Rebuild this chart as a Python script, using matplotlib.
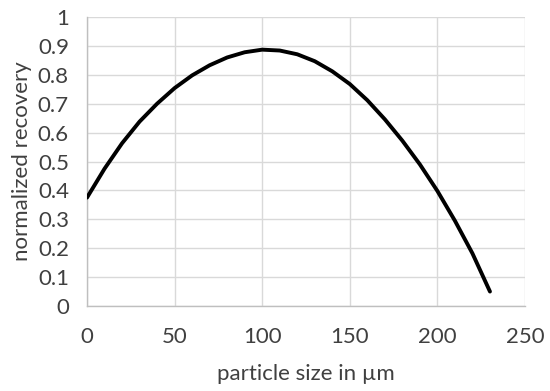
import matplotlib
matplotlib.use("Agg")
import matplotlib.pyplot as plt
import numpy as np

particle_size = [0, 10, 20, 30, 40, 50, 60, 70, 80, 90, 100, 110, 120, 130,
                 140, 150, 160, 170, 180, 190, 200, 210, 220, 230]
recovery = [0.375, 0.475, 0.563, 0.638, 0.70, 0.754, 0.798, 0.833, 0.860, 0.878,
            0.887, 0.884, 0.871, 0.847, 0.812, 0.768, 0.712, 0.646, 0.572,
            0.49, 0.398, 0.295, 0.182, 0.05]
x_ticks = [0, 50, 100, 150, 200, 250]
y_ticks = [0, 0.1, 0.2, 0.3, 0.4, 0.5, 0.6, 0.7, 0.8, 0.9, 1]
y_tick_labels = ["0", "0.1", "0.2", "0.3", "0.4", "0.5", "0.6", "0.7", "0.8", "0.9", "1"]

plt.rcParams['font.family'] = ['Lato', 'DejaVu Sans']

fig = plt.figure(figsize=(5.5, 3.91), dpi=100)
ax = fig.add_axes([87/550, 85/391, 438/550, 289/391])

ax.plot(particle_size, recovery, color='black', lw=2.8, solid_capstyle='round',
        solid_joinstyle='round', zorder=3)

ax.set_xlim(0, 250)
ax.set_ylim(0, 1)
ax.set_xticks(x_ticks)
ax.set_xticklabels([str(t) for t in x_ticks])
ax.set_yticks(y_ticks)
ax.set_yticklabels(y_tick_labels)
ax.grid(True, color='#d9d9d9', lw=1.0)
ax.set_axisbelow(True)
for s in ['top', 'right']:
    ax.spines[s].set_visible(False)
for s in ['left', 'bottom']:
    ax.spines[s].set_color('#bfbfbf')
    ax.spines[s].set_linewidth(1.0)
ax.tick_params(length=0, labelsize=16, colors='#404040')
ax.tick_params(axis='y', pad=13)
ax.tick_params(axis='x', pad=15)
ax.set_xlabel('particle size in µm', fontsize=16, color='#404040', labelpad=12)
ax.set_ylabel('normalized recovery', fontsize=16, color='#404040', labelpad=4)
for lab in ax.get_xticklabels() + ax.get_yticklabels():
    lab.set_color('#404040')

fig.savefig('out.png', dpi=100)
